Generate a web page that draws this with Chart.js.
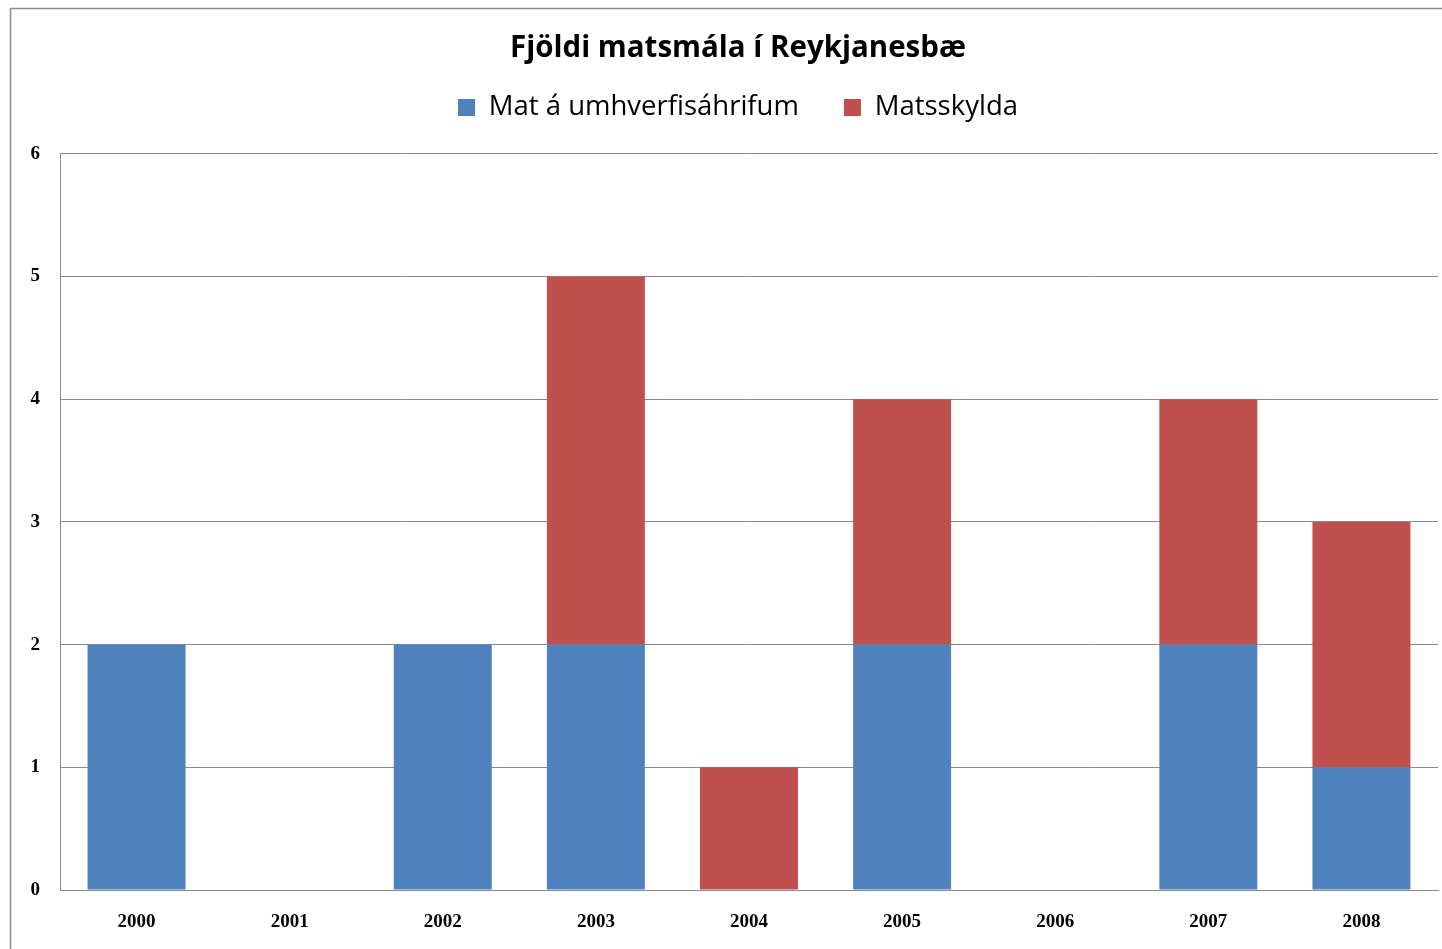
<!DOCTYPE html>
<html>
<head>
<meta charset="utf-8">
<script src="https://cdn.jsdelivr.net/npm/chart.js@4/dist/chart.umd.min.js"></script>
<style>
  html, body { margin: 0; padding: 0; background: #fff; overflow: hidden; }
  #wrap { position: relative; width: 1442px; height: 949px; overflow: hidden; }
</style>
</head>
<body>
<div id="wrap"><canvas id="myChart" width="1476" height="949"></canvas></div>
<script>
'use strict';
//chart data
var years = ['2000', '2001', '2002', '2003', '2004', '2005', '2006', '2007', '2008'];
var matUmhverfis = [2, 0, 2, 2, 0, 2, 0, 2, 1];
var matsskylda = [0, 0, 0, 3, 1, 2, 0, 2, 2];
var seriesNames = ['Mat á umhverfisáhrifum', 'Matsskylda'];
var yTicks = [0, 1, 2, 3, 4, 5, 6];

var blue = '#4F81BD';
var red = '#C0504D';
var gridGray = '#8a8a8a';

//outer frame round the chart + extra room under the legend
var framePlugin = {
  id: 'frame',
  beforeInit: function(chart){
    var legend = chart.legend;
    var origFit = legend.fit;
    legend.fit = function(){
      origFit.call(legend);
      legend.height += 22.5;
    };
  },
  beforeDraw: function(chart){
    var ctx = chart.ctx;
    ctx.save();
    ctx.fillStyle = '#fff';
    ctx.fillRect(0, 0, chart.width, chart.height);
    ctx.strokeStyle = '#8c8c8c';
    ctx.lineWidth = 1.5;
    ctx.strokeRect(10.5, 8.5, 1460, 980);
    ctx.restore();
  }
};

var ctx = document.getElementById('myChart').getContext('2d');

new Chart(ctx, {
  type: 'bar',
  data: {
    labels: years,
    datasets: [
      {
        label: seriesNames[0],
        data: matUmhverfis,
        backgroundColor: blue,
        borderWidth: 0,
        categoryPercentage: 1,
        barPercentage: 0.64
      },
      {
        label: seriesNames[1],
        data: matsskylda,
        backgroundColor: red,
        borderWidth: 0,
        categoryPercentage: 1,
        barPercentage: 0.64
      }
    ]
  },
  options: {
    responsive: false,
    animation: false,
    layout: { padding: 0 },
    plugins: {
      title: {
        display: true,
        text: 'Fjöldi matsmála í Reykjanesbæ',
        color: '#000',
        font: { family: 'Open Sans', size: 29.5, weight: 'bold' },
        padding: { top: 31.3, bottom: -17.9 }
      },
      legend: {
        display: true,
        labels: {
          color: '#000',
          font: { family: 'Open Sans', size: 27.5 },
          boxWidth: 17,
          boxHeight: 17,
          padding: 45
        }
      },
      tooltip: { enabled: false }
    },
    scales: {
      x: {
        stacked: true,
        grid: { display: false, drawTicks: false },
        border: { display: true, color: gridGray, width: 1 },
        ticks: {
          color: '#000',
          padding: 21,
          font: { family: 'Liberation Serif', size: 19, weight: 'bold' }
        },
        afterFit: function(scale){ scale.height = 59; }
      },
      y: {
        stacked: true,
        min: 0,
        max: 6,
        afterBuildTicks: function(scale){
          scale.ticks = yTicks.map(function(v){ return { value: v }; });
        },
        grid: { color: gridGray, drawTicks: false },
        border: { display: true, color: gridGray, width: 1 },
        ticks: {
          color: '#000',
          padding: 20,
          font: { family: 'Liberation Serif', size: 19, weight: 'bold' }
        },
        afterFit: function(scale){ scale.width = 60; }
      },
      //empty right side spacer so the plot ends where the reference does
      spacer: {
        type: 'linear',
        position: 'right',
        display: true,
        grid: { display: false, drawTicks: false },
        border: { display: false },
        ticks: { display: false },
        afterFit: function(scale){ scale.width = 38; }
      }
    }
  },
  plugins: [framePlugin]
});
</script>
</body>
</html>
